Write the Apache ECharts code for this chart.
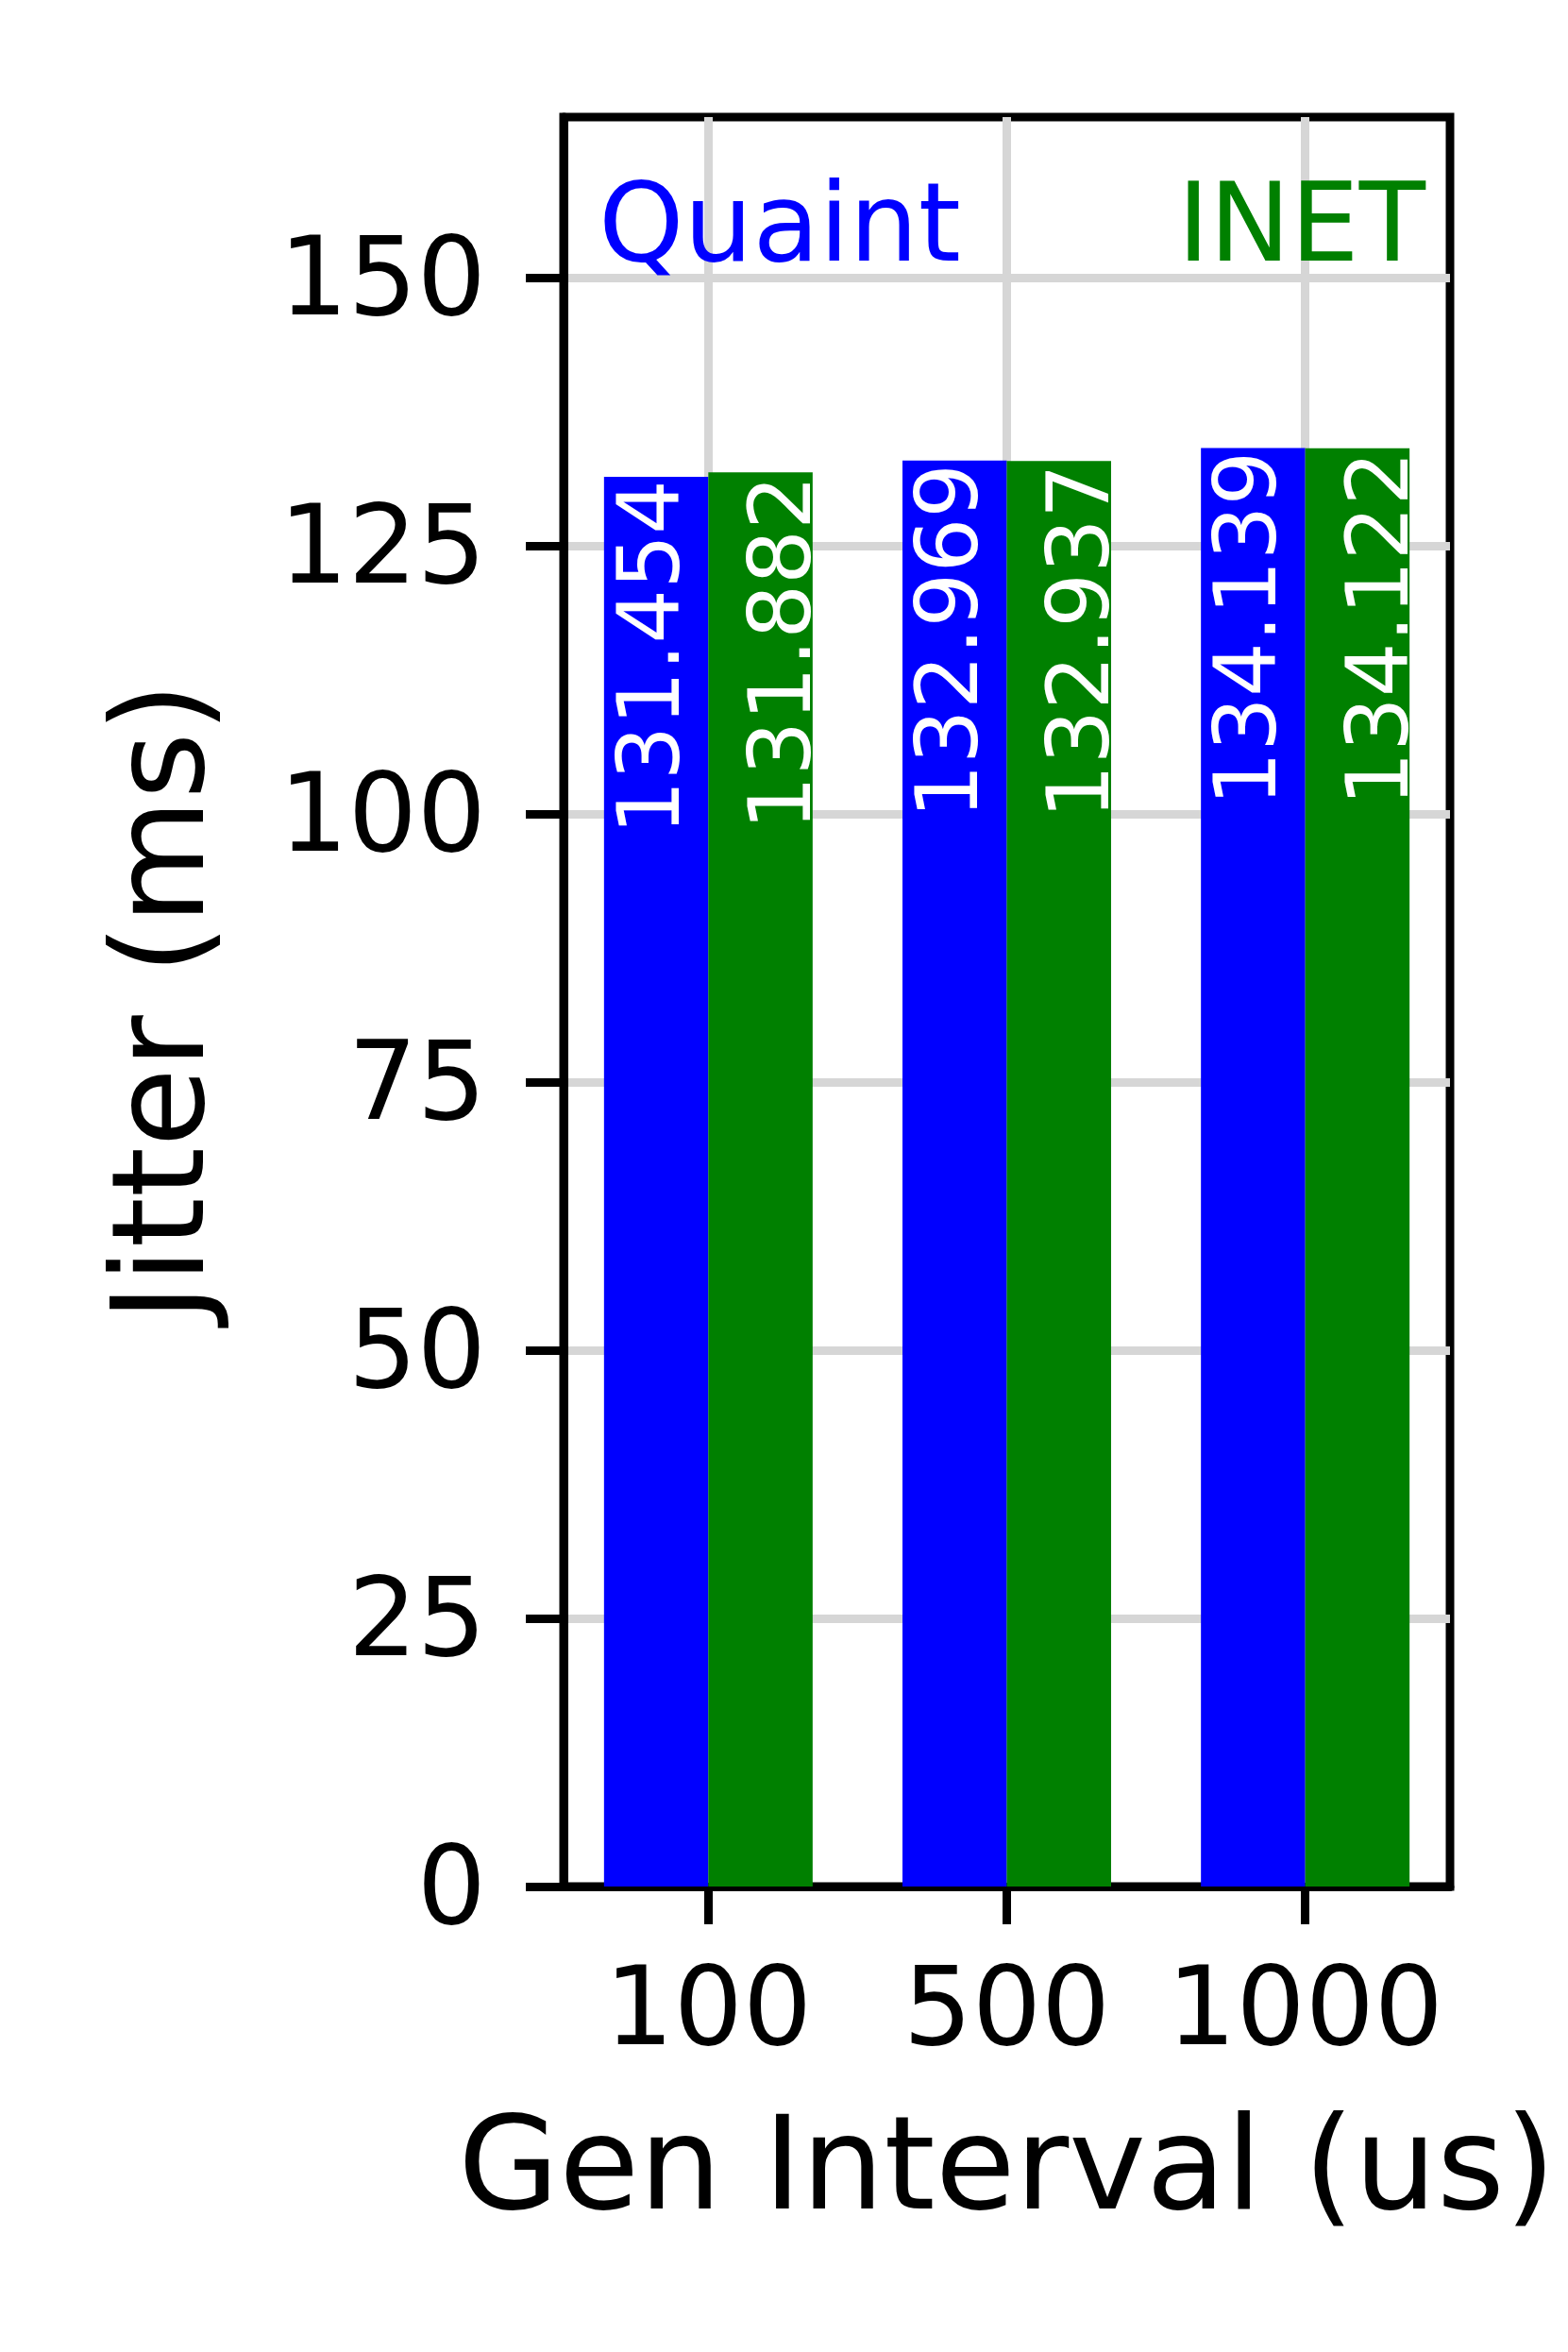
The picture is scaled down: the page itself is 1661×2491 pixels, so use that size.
<!DOCTYPE html>
<html>
<head>
<meta charset="utf-8">
<script src="https://cdn.jsdelivr.net/npm/echarts@6/dist/echarts.min.js"></script>
<style>
  html, body { margin: 0; padding: 0; background: #fff; }
  #chart { width: 1661px; height: 2491px; }
</style>
</head>
<body>
<div id="chart"></div>
<script>
// data
const intervals = ['100', '500', '1000']
const quaint = [131.454, 132.969, 134.139]
const inet = [131.882, 132.937, 134.122]
const yTicks = [0, 25, 50, 75, 100, 125, 150]
const xTicks = [0, 1, 2]

const FONT = 'DejaVu Sans'
const BLUE = '#0000ff'
const GREEN = '#008000'

const chart = echarts.init(document.getElementById('chart'))

function barLabel(offset) {
  return {
    show: true,
    position: 'insideTop',
    distance: 3,
    rotate: 90,
    align: 'right',
    verticalAlign: 'middle',
    offset: offset,
    color: '#fff',
    fontFamily: FONT,
    fontSize: 91,
    formatter: p => p.value[1].toFixed(3)
  }
}

chart.setOption({
  animation: false,
  backgroundColor: '#fff',
  title: [
    {
      text: 'Quaint', left: 634, top: 189, padding: 0,
      textStyle: { color: BLUE, fontFamily: FONT, fontSize: 115, fontWeight: 'normal' }
    },
    {
      text: 'INET', right: 151, top: 189, padding: 0,
      textStyle: { color: GREEN, fontFamily: FONT, fontSize: 115, fontWeight: 'normal' }
    }
  ],
  grid: {
    left: 597, top: 124, right: 125, bottom: 493,
    show: true, borderColor: '#000', borderWidth: 9
  },
  xAxis: {
    type: 'value',
    min: -0.485,
    max: 2.485,
    name: 'Gen Interval (us)',
    nameLocation: 'middle',
    nameGap: 236,
    nameTextStyle: { fontFamily: FONT, fontSize: 138, color: '#000' },
    axisLine: { show: true, onZero: false, lineStyle: { color: '#000', width: 9 } },
    axisTick: { show: true, length: 40, customValues: xTicks, lineStyle: { color: '#000', width: 9 } },
    axisLabel: {
      customValues: xTicks,
      margin: 80,
      fontFamily: FONT, fontSize: 115, color: '#000',
      formatter: v => intervals[Math.round(v)]
    },
    splitLine: { show: true, lineStyle: { color: '#d6d6d6', width: 9 } }
  },
  yAxis: {
    type: 'value',
    min: 0,
    max: 165,
    name: 'Jitter (ms)',
    nameLocation: 'middle',
    nameGap: 349,
    nameTextStyle: { fontFamily: FONT, fontSize: 136, color: '#000' },
    axisLine: { show: true, onZero: false, lineStyle: { color: '#000', width: 9 } },
    axisTick: { show: true, length: 40, customValues: yTicks, lineStyle: { color: '#000', width: 9 } },
    axisLabel: {
      customValues: yTicks,
      margin: 82,
      verticalAlign: 'top',
      lineHeight: 18,
      fontFamily: FONT, fontSize: 115, color: '#000'
    },
    splitLine: { show: true, lineStyle: { color: '#d6d6d6', width: 9 } }
  },
  series: [
    {
      name: 'Quaint',
      type: 'bar',
      barWidth: 110.5,
      barGap: '0%',
      itemStyle: { color: BLUE },
      label: barLabel([0, 0]),
      data: quaint.map((v, i) => [i, v])
    },
    {
      name: 'INET',
      type: 'bar',
      barWidth: 110.5,
      barGap: '0%',
      itemStyle: { color: GREEN },
      label: barLabel([0, 29]),
      data: inet.map((v, i) => [i, v])
    }
  ]
})
</script>
</body>
</html>
